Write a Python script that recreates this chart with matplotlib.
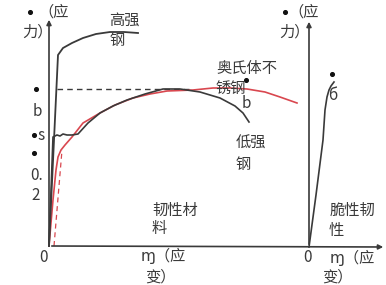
"""
应力-应变曲线示意图 (韧性材料 / 脆性材料)
"""
import matplotlib
matplotlib.use("Agg")
import matplotlib.pyplot as plt

plt.rcParams.update({
    "font.family": ["Noto Sans CJK SC", "DejaVu Sans"],
    "axes.unicode_minus": False,
})

INK = "#3a3a3a"
RED = "#d9474f"

# ── 曲线数据 (画布坐标, y 向下) ──────────────────────────────
high_x = [49, 58, 63, 72, 83, 96, 110, 124, 138]
high_y = [246, 55, 48, 43, 38, 34, 32, 32, 33]

low_x = [49, 53, 57, 60, 63, 67, 72, 78, 88, 100, 113, 127, 145, 163, 180, 200, 220, 235, 243, 249]
low_y = [246, 137, 135, 136, 134, 135, 135, 134, 123, 113, 106, 100, 94, 89, 89, 92, 98, 106, 113, 122]

aus_x = [49, 53, 56, 58, 61, 65, 72, 83, 100, 115, 133, 150, 167, 193, 213, 230, 247, 265, 280, 297]
aus_y = [246, 200, 170, 157, 150, 145, 137, 123, 113, 105, 98, 94, 91, 90, 88, 88, 89, 92, 97, 103]

offset_x = [54, 62]
offset_y = [246, 150]

brittle_x = [309, 316, 323, 325, 327, 329, 331, 334]
brittle_y = [247, 195, 140, 110, 97, 90, 86, 82]

dash_x = [57, 190]
dash_y = [89, 89]

# ── 文字 ─────────────────────────────────────────────────────
dots = [(30, 12), (36, 89), (34, 135), (34, 153), (285, 12), (246, 80), (332, 74)]
labels = [
    (54, 12, "（应"), (37, 32, "力）"),
    (37, 111, "b"), (41, 135, "s"),
    (37, 176, "0."), (36, 196, "2"), (44, 257, "0"),
    (124, 20, "高强"), (117, 41, "钢"),
    (247, 68, "奥氏体不"), (231, 88, "锈钢"),
    (246, 103, "b"),
    (251, 143, "低强"), (243, 164, "钢"),
    (175, 210, "韧性材"), (159, 229, "料"),
    (163, 257, "ɱ（应"), (160, 277, "变）"),
    (304, 12, "（应"), (294, 32, "力）"),
    (333, 95, "б"),
    (352, 210, "脆性韧"), (336, 230, "性"),
    (308, 257, "0"), (352, 258, "ɱ（应"), (337, 277, "变）"),
]

fig = plt.figure(figsize=(3.86, 2.85), dpi=100)
ax = fig.add_axes([0, 0, 1, 1])
ax.set_xlim(0, 386)
ax.set_ylim(285, 0)
ax.axis("off")

# 坐标轴
arrow = dict(arrowstyle="-|>", color=INK, lw=1.2, mutation_scale=7)
ax.annotate("", xy=(49, 17), xytext=(49, 246), arrowprops=arrow)
ax.annotate("", xy=(309, 19), xytext=(309, 247), arrowprops=arrow)
ax.annotate("", xy=(386, 247), xytext=(49, 246), arrowprops=arrow)

ax.plot(dash_x, dash_y, color=INK, lw=1.0, ls=(0, (4, 3)))
ax.plot(offset_x, offset_y, color=RED, lw=0.9, ls=(0, (4, 3)))
ax.plot(aus_x, aus_y, color=RED, lw=1.2)
ax.plot(high_x, high_y, color=INK, lw=1.3)
ax.plot(low_x, low_y, color=INK, lw=1.2)
ax.plot(brittle_x, brittle_y, color=INK, lw=1.2)

ax.scatter([d[0] for d in dots], [d[1] for d in dots], s=7, color="#111111", zorder=3)

for x, y, s in labels:
    ax.text(x, y, s, ha="center", va="center", fontsize=11, color=INK)

fig.savefig("out.png", dpi=100, facecolor="white")
